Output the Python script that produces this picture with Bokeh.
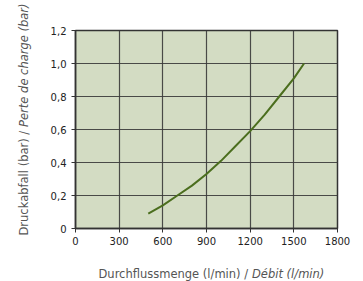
import numpy as np
from bokeh.plotting import figure
from bokeh.models import Range1d, FixedTicker, Label
from bokeh.layouts import row, column
from bokeh.embed import file_html
from bokeh.resources import INLINE

flow = [500, 600, 700, 800, 900, 1000, 1100, 1200, 1300, 1400, 1500, 1570]
drop = [0.09, 0.14, 0.20, 0.26, 0.33, 0.41, 0.50, 0.59, 0.69, 0.80, 0.91, 1.00]

x_ticks = [0, 300, 600, 900, 1200, 1500, 1800]
y_ticks = [0, 0.2, 0.4, 0.6, 0.8, 1.0, 1.2]
y_tick_labels = ["0", "0,2", "0,4", "0,6", "0,8", "1,0", "1,2"]

x_title = ["Durchflussmenge (l/min) / ", "Débit (l/min)"]
y_title = ["Druckabfall (bar) / ", "Perte de charge (bar)"]

FONT = "DejaVu Sans"
TITLE_SIZE = "11.5px"
TITLE_COLOR = "#555555"

# ---- main chart ----
p = figure(width=327, height=255, output_backend="svg", toolbar_location=None,
           x_range=Range1d(0, 1800), y_range=Range1d(0, 1.2),
           min_border_left=39, min_border_right=26, min_border_top=30, min_border_bottom=27)
p.background_fill_color = "#d3dcc3"
p.border_fill_color = "white"
p.outline_line_color = "#333333"
p.outline_line_width = 1.5

p.xaxis.ticker = FixedTicker(ticks=x_ticks)
p.yaxis.ticker = FixedTicker(ticks=y_ticks)
p.yaxis.major_label_overrides = {v: s for v, s in zip(y_ticks, y_tick_labels)}
for ax in (p.xaxis, p.yaxis):
    ax.axis_line_color = "#333333"
    ax.axis_line_width = 1.5
    ax.major_tick_line_color = "#333333"
    ax.major_tick_out = 4
    ax.major_tick_in = 0
    ax.minor_tick_line_color = None
    ax.major_label_text_font = FONT
    ax.major_label_text_font_size = "10px"
    ax.major_label_text_color = "#222222"
p.xaxis.major_label_standoff = 4
p.yaxis.major_label_standoff = 5

p.grid.grid_line_color = "#3a3a3a"
p.grid.grid_line_width = 1.2
p.grid.grid_line_alpha = 0.9

p.line(flow, drop, line_color="#4b6e1e", line_width=2)


def text_panel(w, h):
    f = figure(width=w, height=h, output_backend="svg", toolbar_location=None,
               x_range=Range1d(0, 1), y_range=Range1d(0, 1),
               min_border=0, min_border_left=0, min_border_right=0,
               min_border_top=0, min_border_bottom=0)
    f.axis.visible = False
    f.grid.visible = False
    f.outline_line_color = None
    f.background_fill_color = "white"
    f.border_fill_color = "white"
    return f


# ---- x-axis title panel (its frame is aligned with the chart frame) ----
xt = text_panel(327, 26)
xt.add_layout(Label(x=23, y=8, x_units="screen", y_units="screen", text=x_title[0],
                    text_font=FONT, text_font_size=TITLE_SIZE, text_color=TITLE_COLOR,
                    text_baseline="middle", text_align="left"))
xt.add_layout(Label(x=176.5, y=8, x_units="screen", y_units="screen", text=x_title[1],
                    text_font=FONT, text_font_size=TITLE_SIZE, text_color=TITLE_COLOR,
                    text_baseline="middle", text_align="left", text_font_style="italic"))

# ---- y-axis title panel ----
yt = text_panel(36, 281)
yt.add_layout(Label(x=23, y=46, x_units="screen", y_units="screen", text=y_title[0],
                    text_font=FONT, text_font_size=TITLE_SIZE, text_color=TITLE_COLOR,
                    text_baseline="middle", text_align="left", angle=np.pi / 2))
yt.add_layout(Label(x=23, y=154.6, x_units="screen", y_units="screen", text=y_title[1],
                    text_font=FONT, text_font_size=TITLE_SIZE, text_color=TITLE_COLOR,
                    text_baseline="middle", text_align="left", angle=np.pi / 2,
                    text_font_style="italic"))

layout = row(yt, column(p, xt, spacing=0), spacing=0)

open("out.html", "w").write(file_html(layout, INLINE))
